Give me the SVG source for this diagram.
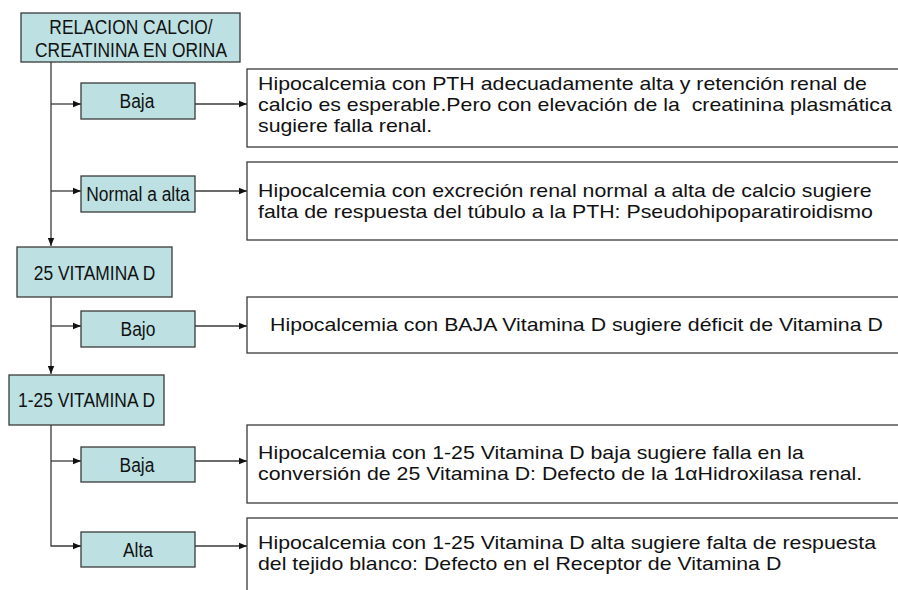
<svg xmlns="http://www.w3.org/2000/svg" width="898" height="590" viewBox="0 0 898 590">
<style>
.k{fill:#bde1e3;stroke:#3a3a3a;stroke-width:1.3}
.b{fill:#ffffff;stroke:#3a3a3a;stroke-width:1.3}
.t{font-family:"Liberation Sans",Arial,sans-serif;font-size:19px;fill:#111}
.l{font-family:"Liberation Sans",Arial,sans-serif;font-size:20px;fill:#111;text-anchor:middle}
.c{fill:none;stroke:#3a3a3a;stroke-width:1.3}
</style>
<defs>
<marker id="ah" viewBox="0 0 10 10" refX="10" refY="5" markerWidth="8" markerHeight="8" markerUnits="userSpaceOnUse" orient="auto">
<path d="M0,1 L10,5 L0,9 z" fill="#111"/>
</marker>
</defs>
<rect width="898" height="590" fill="#ffffff"/>
<g id="connectors">
<path class="c" d="M51,62 V246" marker-end="url(#ah)"/>
<path class="c" d="M51,104 H81" marker-end="url(#ah)"/>
<path class="c" d="M51,191 H81" marker-end="url(#ah)"/>
<path class="c" d="M195,104 H247" marker-end="url(#ah)"/>
<path class="c" d="M195,191 H247" marker-end="url(#ah)"/>
<path class="c" d="M51,297 V374" marker-end="url(#ah)"/>
<path class="c" d="M51,326 H81" marker-end="url(#ah)"/>
<path class="c" d="M195,326 H247" marker-end="url(#ah)"/>
<path class="c" d="M51,425 V546 H81" marker-end="url(#ah)"/>
<path class="c" d="M51,461 H81" marker-end="url(#ah)"/>
<path class="c" d="M195,461 H247" marker-end="url(#ah)"/>
<path class="c" d="M195,546 H247" marker-end="url(#ah)"/>
</g>
<g id="n-ratio">
<rect class="k" x="21" y="13" width="219" height="49"/>
<text class="l" transform="matrix(0.87 0 0 1 131 34)">RELACION CALCIO/</text>
<text class="l" transform="matrix(0.87 0 0 1 131 57)">CREATININA EN ORINA</text>
</g>
<g id="n-baja1">
<rect class="k" x="81" y="83" width="114" height="36"/>
<text class="l" transform="matrix(0.87 0 0 1 137 108)">Baja</text>
</g>
<g id="n-normal">
<rect class="k" x="81" y="176" width="114" height="36"/>
<text class="l" transform="matrix(0.87 0 0 1 138 201)">Normal a alta</text>
</g>
<g id="d-baja1">
<rect class="b" x="247" y="69" width="700" height="78"/>
<text class="t" transform="matrix(1.122 0 0 1 258 90)">Hipocalcemia con PTH adecuadamente alta y retención renal de</text>
<text class="t" transform="matrix(1.122 0 0 1 258 111)" xml:space="preserve">calcio es esperable.Pero con elevación de la  creatinina plasmática</text>
<text class="t" transform="matrix(1.122 0 0 1 258 132)">sugiere falla renal.</text>
</g>
<g id="d-normal">
<rect class="b" x="247" y="162" width="700" height="78"/>
<text class="t" transform="matrix(1.122 0 0 1 258 197)">Hipocalcemia con excreción renal normal a alta de calcio sugiere</text>
<text class="t" transform="matrix(1.122 0 0 1 258 218)">falta de respuesta del túbulo a la PTH: Pseudohipoparatiroidismo</text>
</g>
<g id="n-25d">
<rect class="k" x="17" y="247" width="155" height="50"/>
<text class="l" transform="matrix(0.87 0 0 1 94.5 280)">25 VITAMINA D</text>
</g>
<g id="n-bajo">
<rect class="k" x="81" y="311" width="114" height="36"/>
<text class="l" transform="matrix(0.87 0 0 1 138 336)">Bajo</text>
</g>
<g id="d-bajo">
<rect class="b" x="247" y="297" width="700" height="56"/>
<text class="t" transform="matrix(1.122 0 0 1 270 331)">Hipocalcemia con BAJA Vitamina D sugiere déficit de Vitamina D</text>
</g>
<g id="n-125d">
<rect class="k" x="9" y="375" width="155" height="50"/>
<text class="l" transform="matrix(0.87 0 0 1 86.5 407)">1-25 VITAMINA D</text>
</g>
<g id="n-baja2">
<rect class="k" x="81" y="447" width="114" height="35"/>
<text class="l" transform="matrix(0.87 0 0 1 137 471.5)">Baja</text>
</g>
<g id="d-baja2">
<rect class="b" x="247" y="425" width="700" height="78"/>
<text class="t" transform="matrix(1.122 0 0 1 258 459)">Hipocalcemia con 1-25 Vitamina D baja sugiere falla en la</text>
<text class="t" transform="matrix(1.122 0 0 1 258 480)">conversión de 25 Vitamina D: Defecto de la 1αHidroxilasa renal.</text>
</g>
<g id="n-alta">
<rect class="k" x="81" y="532" width="114" height="35"/>
<text class="l" transform="matrix(0.87 0 0 1 138 556.5)">Alta</text>
</g>
<g id="d-alta">
<rect class="b" x="247" y="518" width="700" height="100"/>
<text class="t" transform="matrix(1.122 0 0 1 258 549)">Hipocalcemia con 1-25 Vitamina D alta sugiere falta de respuesta</text>
<text class="t" transform="matrix(1.122 0 0 1 258 570)">del tejido blanco: Defecto en el Receptor de Vitamina D</text>
</g>
</svg>
